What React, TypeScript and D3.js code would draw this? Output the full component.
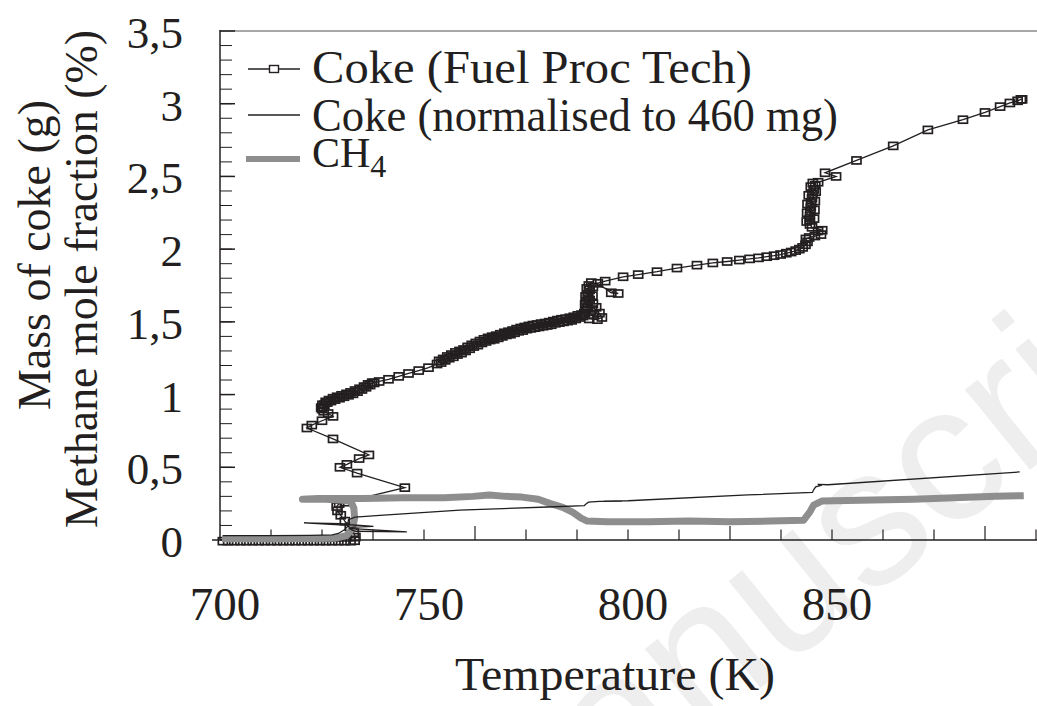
import React from 'react';
import * as d3 from 'd3';

// Coke (Fuel Proc Tech): [temperature K, mass g]
const cokeFuelProc: [number, number][] = [
  [700.7, -0.008], [702, -0.008], [703.5, -0.008], [705, -0.008], [706.5, -0.008], [708, -0.008],
  [709.5, -0.008], [711, -0.008], [712.5, -0.008], [714, -0.008], [715.5, -0.008], [717, -0.008],
  [718.5, -0.008], [720, -0.008], [721.5, -0.008], [723, -0.008], [724.5, -0.008], [726, -0.008],
  [727.5, -0.008], [729, -0.008], [730.5, -0.008], [732, -0.008], [733, -0.005],
  [733.2, 0.02], [732.8, 0.05], [731.8, 0.09], [730.6, 0.13], [729.6, 0.17], [728.8, 0.2],
  [728.6, 0.23], [729.2, 0.25], [730.6, 0.26],
  [745.3, 0.36], [733.6, 0.46], [729.4, 0.5], [731.1, 0.52], [734.1, 0.56], [736.5, 0.585],
  [727.7, 0.695], [721.3, 0.77], [722.5, 0.79], [725.0, 0.82], [727.7, 0.85],
  [726.5, 0.87], [725.4, 0.885], [725.0, 0.9], [724.8, 0.91], [725.2, 0.915], [725.1, 0.93],
  [725.6, 0.93], [725.9, 0.95], [726.3, 0.945], [726.7, 0.962], [727.2, 0.955], [727.7, 0.975],
  [728.2, 0.965], [728.7, 0.985], [729.3, 0.975], [729.8, 0.995], [730.4, 0.985], [731, 1.005],
  [731.5, 0.995], [732, 1.015], [732.6, 1.005], [733.1, 1.028], [733.7, 1.02], [734.2, 1.04],
  [734.8, 1.035], [735.3, 1.055], [735.8, 1.05], [736.3, 1.07], [736.8, 1.065], [737.3, 1.082],
  [737.8, 1.08], [739, 1.09],
  [741.3, 1.105], [743.8, 1.125], [746.2, 1.145], [748.7, 1.165], [751.1, 1.185], [753.2, 1.21],
  [753.7, 1.232], [754.2, 1.22], [754.7, 1.245], [755.2, 1.235], [755.7, 1.262], [756.2, 1.25],
  [756.7, 1.275], [757.2, 1.26], [757.7, 1.29], [758.2, 1.275], [758.7, 1.3], [759.2, 1.285],
  [759.7, 1.31], [760.2, 1.3], [760.7, 1.328], [761.2, 1.315], [761.7, 1.342], [762.2, 1.33],
  [762.7, 1.355], [763.2, 1.34], [763.7, 1.368], [764.2, 1.355], [764.7, 1.38], [765.2, 1.365],
  [765.7, 1.39], [766.2, 1.375], [766.7, 1.398], [767.2, 1.38], [767.7, 1.405], [768.2, 1.39],
  [768.7, 1.415], [769.2, 1.4], [769.7, 1.425], [770.2, 1.41], [770.7, 1.432], [771.2, 1.415],
  [771.7, 1.44], [772.2, 1.425], [772.7, 1.45], [773.2, 1.435], [773.7, 1.458], [774.2, 1.44],
  [774.7, 1.465], [775.2, 1.45], [775.7, 1.472], [776.2, 1.455], [776.7, 1.478], [777.2, 1.46],
  [777.7, 1.482], [778.2, 1.465], [778.7, 1.488], [779.2, 1.47], [779.7, 1.492], [780.2, 1.475],
  [780.7, 1.498], [781.2, 1.48], [781.7, 1.505], [782.2, 1.49], [782.7, 1.512], [783.2, 1.495],
  [783.7, 1.518], [784.2, 1.5], [784.7, 1.522], [785.2, 1.505], [785.7, 1.528], [786.2, 1.51],
  [786.7, 1.535], [787.2, 1.52], [787.7, 1.545], [788.2, 1.53], [788.6, 1.55], [789.0, 1.54],
  [790.5, 1.52], [792.5, 1.515], [793.6, 1.53], [793, 1.56], [791.6, 1.55], [789.3, 1.56],
  [789.6, 1.58], [791.2, 1.585], [792.2, 1.6], [790.1, 1.6], [789.5, 1.62], [791.4, 1.625],
  [789.8, 1.64], [790.6, 1.65], [790.3, 1.66], [789.6, 1.675], [791.3, 1.68], [790.1, 1.69],
  [790.6, 1.72], [789.9, 1.73], [791.4, 1.74], [790.4, 1.75], [791, 1.77],
  [797.6, 1.695], [795.9, 1.7], [792.6, 1.765],
  [794.4, 1.78], [798.8, 1.81], [802.5, 1.825], [807.1, 1.845], [812, 1.87], [816.9, 1.89],
  [820.8, 1.905], [824.3, 1.915], [827.3, 1.925], [829.8, 1.933], [832, 1.94], [834, 1.948],
  [835.8, 1.955], [837.4, 1.963], [838.8, 1.972], [840, 1.98], [841.1, 1.99], [842, 2.0],
  [842.8, 2.012], [843.5, 2.03], [844, 2.05], [843.6, 2.07], [844.4, 2.08], [845.8, 2.09],
  [847.3, 2.1], [846.6, 2.125], [847.6, 2.13], [845.1, 2.15], [844.6, 2.17], [843.8, 2.19],
  [844.5, 2.2], [845.6, 2.21], [844.6, 2.23], [843.9, 2.25], [844.7, 2.26], [845.7, 2.27],
  [844.8, 2.29], [844, 2.31], [844.9, 2.32], [845.8, 2.33], [845.1, 2.35], [844.3, 2.37],
  [845.2, 2.38], [846, 2.395], [845.5, 2.41], [844.8, 2.43], [845.9, 2.44], [845.3, 2.455],
  [846.6, 2.46], [851, 2.5], [848.3, 2.525], [856, 2.61], [865, 2.71], [873.5, 2.82],
  [882.1, 2.89], [887.5, 2.94], [891.2, 2.98], [893.6, 3.005], [895.5, 3.02], [896.3, 3.03], [896.6, 3.03],
];

// Coke (normalised to 460 mg): [temperature K, mass g]
const cokeNormalised: [number, number][] = [
  [700.7, 0.03], [712, 0.03], [722, 0.032], [727.5, 0.035], [729, 0.045], [730.5, 0.07],
  [731.5, 0.1], [720.6, 0.118], [729.6, 0.113], [732, 0.105], [737.6, 0.093], [732.8, 0.088],
  [731.6, 0.08], [745.8, 0.056], [733.2, 0.06], [731.8, 0.075], [731.3, 0.11], [731.5, 0.14],
  [733.1, 0.158], [739.2, 0.17], [758.8, 0.206], [780.3, 0.227], [789.3, 0.237], [789.8, 0.25],
  [790.3, 0.26], [793, 0.265], [798.5, 0.265], [794, 0.268], [800, 0.27], [829.4, 0.31],
  [845.2, 0.327], [845.5, 0.345], [846, 0.365], [847.5, 0.378], [846.5, 0.382], [849, 0.38],
  [896, 0.468],
];

// CH4 mole fraction: [temperature K, %]
const methane: [number, number][] = [
  [700.5, 0.008], [715, 0.008], [728, 0.012], [731, 0.03], [732.5, 0.08], [733, 0.15],
  [732.8, 0.22], [732, 0.27], [726, 0.28], [720.2, 0.28], [724, 0.285], [735, 0.285],
  [745, 0.29], [755, 0.29], [762, 0.3], [766, 0.31], [770, 0.3], [774, 0.295], [778, 0.28],
  [781, 0.25], [784, 0.225], [786.5, 0.19], [788.5, 0.15], [790, 0.13], [795, 0.125],
  [805, 0.125], [815, 0.13], [825, 0.125], [835, 0.13], [843, 0.135], [844.5, 0.19],
  [845.5, 0.24], [847.5, 0.268], [860, 0.275], [870, 0.28], [880, 0.29], [890, 0.3], [897, 0.305],
];

const xTickLabels = [700, 750, 800, 850];
const xMajorTicks = [762.5, 825, 887.5];
const yTickValues = [0, 0.5, 1, 1.5, 2, 2.5, 3, 3.5];
const yTickLabels = ['0', '0,5', '1', '1,5', '2', '2,5', '3', '3,5'];
const legendLabels = ['Coke (Fuel Proc Tech)', 'Coke (normalised to 460 mg)', 'CH'];

const W = 1037;
const H = 706;
const SERIF = 'Liberation Serif';
const INK = '#231f20';
const GREY = '#8e8e8e';

export default function App() {
  const x = d3.scaleLinear().domain([700, 900]).range([220, 1036]);
  const y = d3.scaleLinear().domain([0, 3.5]).range([540, 31]);
  const line = d3.line<[number, number]>().x(d => x(d[0])).y(d => y(d[1]));

  const xMinor = d3.range(712.5, 900.01, 12.5);
  const yMinor = d3.range(0.1, 3.5, 0.1);
  const serif = { fontFamily: SERIF };

  return (
    <svg width={W} height={H} style={{ position: 'absolute', left: 0, top: 0, background: '#fff' }}>
      <rect x={0} y={0} width={W} height={H} fill="#fff" />
      {/* watermark */}
      <text x={0} y={0} transform="translate(489,908) rotate(-39)" fontSize={195}
        style={{ fontFamily: 'Liberation Sans' }} fill="#eeeeee">manuscript</text>

      {/* frame */}
      <line x1={220} x2={W} y1={31} y2={31} stroke="#a8a8a8" strokeWidth={2} />
      <line x1={220} x2={220} y1={30} y2={540} stroke={INK} strokeWidth={1.5} />
      <line x1={212} x2={W} y1={540} y2={540} stroke={INK} strokeWidth={1.5} />

      {/* y ticks */}
      {yMinor.map((v, i) => (
        <line key={'ym' + i} x1={220} x2={232} y1={y(v)} y2={y(v)} stroke={INK} strokeWidth={1} />
      ))}
      {yTickValues.map((v, i) => (
        <line key={'yM' + i} x1={220} x2={235} y1={y(v)} y2={y(v)} stroke={INK} strokeWidth={1.5} />
      ))}
      {yTickValues.map((v, i) => (
        <text key={'yl' + i} x={183} y={y(v) + 17} textAnchor="end" fontSize={45} fill={INK} style={serif}>
          {yTickLabels[i]}
        </text>
      ))}

      {/* x ticks */}
      {xMinor.map((v, i) => (
        <line key={'xm' + i} x1={x(v)} x2={x(v)} y1={540} y2={xMajorTicks.includes(v) ? 526 : 529.5}
          stroke={INK} strokeWidth={1.2} />
      ))}
      {xTickLabels.map((v, i) => (
        <text key={'xl' + i} x={x(v) + 5} y={620} textAnchor="middle" fontSize={47} fill={INK} style={serif}>
          {v}
        </text>
      ))}

      {/* axis titles */}
      <text x={455} y={690} fontSize={47} fill={INK} style={serif} textLength={320}
        lengthAdjust="spacingAndGlyphs">Temperature (K)</text>
      <text transform="translate(50,410) rotate(-90)" fontSize={46} fill={INK} style={serif}
        textLength={310} lengthAdjust="spacingAndGlyphs">Mass of coke (g)</text>
      <text transform="translate(97,528) rotate(-90)" fontSize={46} fill={INK} style={serif}
        textLength={498} lengthAdjust="spacingAndGlyphs">Methane mole fraction (%)</text>

      {/* series */}
      <path d={line(cokeFuelProc) || ''} fill="none" stroke={INK} strokeWidth={1.3} />
      {cokeFuelProc.map((d, i) => (
        <rect key={'sq' + i} x={x(d[0]) - 4.5} y={y(d[1]) - 3.5} width={9} height={7}
          fill="none" stroke={INK} strokeWidth={1.7} />
      ))}
      <path d={line(methane) || ''} fill="none" stroke={GREY} strokeWidth={7} strokeLinejoin="round" />
      <path d={line(cokeNormalised) || ''} fill="none" stroke={INK} strokeWidth={1.3} />

      {/* legend */}
      <line x1={248} x2={300} y1={69} y2={69} stroke={INK} strokeWidth={1.3} />
      <rect x={269.5} y={65.5} width={9} height={7} fill="#fff" stroke={INK} strokeWidth={1.4} />
      <text x={312} y={83} fontSize={47} fill={INK} style={serif} textLength={440}
        lengthAdjust="spacingAndGlyphs">{legendLabels[0]}</text>
      <line x1={248} x2={300} y1={115} y2={115} stroke={INK} strokeWidth={1.3} />
      <text x={312} y={131} fontSize={46} fill={INK} style={serif} textLength={526}
        lengthAdjust="spacingAndGlyphs">{legendLabels[1]}</text>
      <line x1={246} x2={300} y1={159} y2={159} stroke={GREY} strokeWidth={6} />
      <text x={312} y={167} fontSize={42} fill={INK} style={serif}>
        {legendLabels[2]}
        <tspan fontSize={32} dy={10}>4</tspan>
      </text>
    </svg>
  );
}
